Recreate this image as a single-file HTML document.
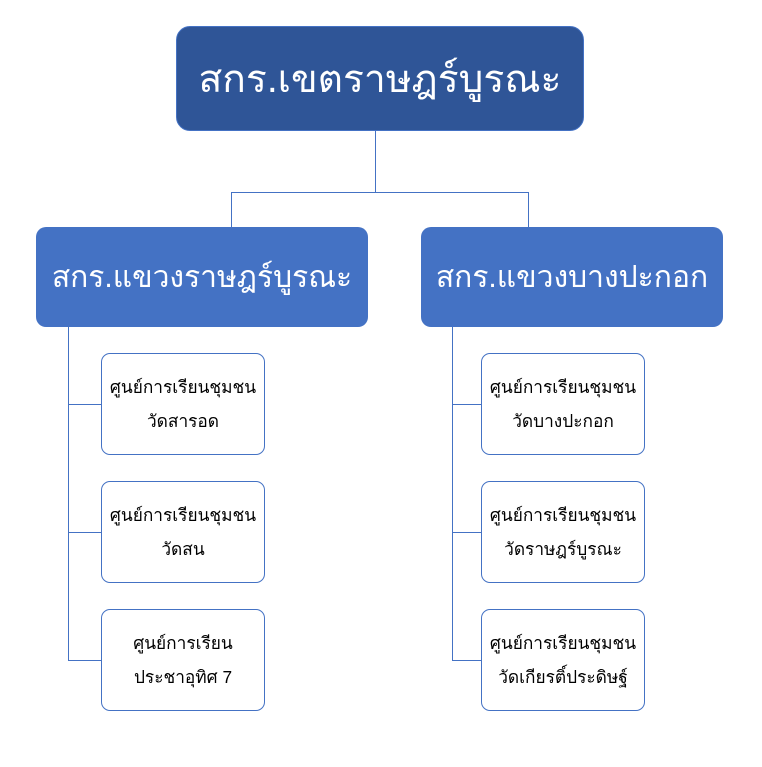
<!DOCTYPE html>
<html><head><meta charset="utf-8"><style>
body{margin:0;width:762px;height:767px;background:#fff;position:relative;overflow:hidden;font-family:"Liberation Sans","DejaVu Sans",sans-serif}
.b{position:absolute;box-sizing:border-box;display:flex;align-items:center;justify-content:center;text-align:center}
.top{left:176px;top:26px;width:408px;height:105px;background:#2F5597;border:1.5px solid #4472C4;border-radius:14px;color:#fff;font-size:39px}
.l2{background:#4472C4;border-radius:10px;color:#fff;font-size:30px;top:227px;height:100px}
.c{background:#fff;border:1.3px solid #4472C4;border-radius:9px;color:#000;font-size:17.3px;line-height:34px;width:164px;height:102px}
.h{position:absolute;height:1.3px;background:#4472C4}
.v{position:absolute;width:1.3px;background:#4472C4}
</style></head><body>
<div class="v" style="left:375px;top:131px;height:61px"></div>
<div class="h" style="left:231px;top:192px;width:298px"></div>
<div class="v" style="left:231px;top:192px;height:35px"></div>
<div class="v" style="left:528px;top:192px;height:35px"></div>
<div class="v" style="left:68px;top:327px;height:334px"></div>
<div class="v" style="left:452px;top:327px;height:334px"></div>
<div class="h" style="left:68px;top:404px;width:34px"></div>
<div class="h" style="left:68px;top:532px;width:34px"></div>
<div class="h" style="left:68px;top:660px;width:34px"></div>
<div class="h" style="left:452px;top:404px;width:30px"></div>
<div class="h" style="left:452px;top:532px;width:30px"></div>
<div class="h" style="left:452px;top:660px;width:30px"></div>
<div class="b top">สกร.เขตราษฎร์บูรณะ</div>
<div class="b l2" style="left:36px;width:332px">สกร.แขวงราษฎร์บูรณะ</div>
<div class="b l2" style="left:421px;width:302px">สกร.แขวงบางปะกอก</div>
<div class="b c" style="left:101px;top:353px">ศูนย์การเรียนชุมชน<br>วัดสารอด</div>
<div class="b c" style="left:101px;top:481px">ศูนย์การเรียนชุมชน<br>วัดสน</div>
<div class="b c" style="left:101px;top:609px">ศูนย์การเรียน<br>ประชาอุทิศ 7</div>
<div class="b c" style="left:481px;top:353px">ศูนย์การเรียนชุมชน<br>วัดบางปะกอก</div>
<div class="b c" style="left:481px;top:481px">ศูนย์การเรียนชุมชน<br>วัดราษฎร์บูรณะ</div>
<div class="b c" style="left:481px;top:609px">ศูนย์การเรียนชุมชน<br>วัดเกียรติ์ประดิษฐ์</div>
</body></html>
